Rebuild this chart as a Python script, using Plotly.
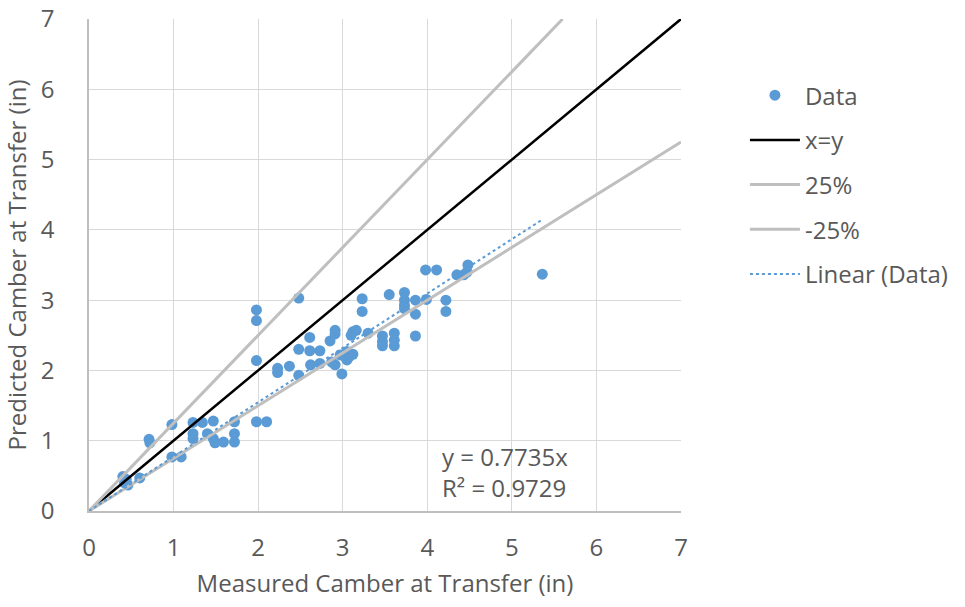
import plotly.graph_objects as go

measured = [0.40, 0.42, 0.46, 0.44, 0.60, 0.71, 0.72, 0.98, 0.98, 1.09,
            1.23, 1.34, 1.47, 1.23, 1.23, 1.40, 1.47, 1.49, 1.59, 1.72,
            1.72, 1.72, 1.98, 2.10, 1.98, 1.98, 1.98, 2.48, 2.23, 2.23,
            2.37, 2.48, 2.48, 2.61, 2.61, 2.62, 2.73, 2.73, 2.85, 2.87,
            2.91, 2.91, 2.91, 2.99, 2.97, 3.05, 3.08, 3.12, 3.05, 3.03,
            3.10, 3.12, 3.16, 3.23, 3.23, 3.30, 3.47, 3.47, 3.47, 3.61,
            3.61, 3.61, 3.55, 3.73, 3.73, 3.73, 3.73, 3.86, 3.86, 3.86,
            3.99, 3.98, 4.11, 4.22, 4.22, 4.35, 4.43, 4.48, 4.47, 5.36]
predicted = [0.49, 0.40, 0.37, 0.45, 0.47, 1.02, 0.97, 1.23, 0.77, 0.77,
             1.26, 1.26, 1.28, 1.10, 1.03, 1.10, 1.03, 0.97, 0.98, 1.27,
             1.10, 0.98, 1.27, 1.27, 2.86, 2.71, 2.14, 3.03, 2.03, 1.97,
             2.06, 2.30, 1.93, 2.47, 2.28, 2.08, 2.28, 2.10, 2.42, 2.12,
             2.57, 2.52, 2.08, 1.95, 2.22, 2.27, 2.20, 2.23, 2.15, 2.19,
             2.50, 2.55, 2.57, 3.02, 2.84, 2.53, 2.49, 2.41, 2.35, 2.53,
             2.43, 2.35, 3.08, 3.11, 3.00, 2.93, 2.88, 3.00, 2.80, 2.49,
             3.01, 3.43, 3.43, 3.00, 2.84, 3.36, 3.36, 3.50, 3.40, 3.37]

line_x = [0, 7]
xy_y = [0, 7]
plus25_x = [0, 5.6]
plus25_y = [0, 7]
minus25_y = [0, 5.25]
trend_x = [0, 5.36]
trend_y = [0, 0.7735 * 5.36]

font = "Open Sans"
grey = "#595959"
fs = 24

fig = go.Figure()
fig.add_trace(go.Scatter(x=measured, y=predicted, mode="markers", name="Data",
                         marker=dict(color="#5B9BD5", size=11), legendgroup="a"))
fig.add_trace(go.Scatter(x=line_x, y=xy_y, mode="lines", name="x=y",
                         line=dict(color="black", width=2.5), legendgroup="b"))
fig.add_trace(go.Scatter(x=plus25_x, y=plus25_y, mode="lines", name="25%",
                         line=dict(color="#BFBFBF", width=3), legendgroup="c"))
fig.add_trace(go.Scatter(x=line_x, y=minus25_y, mode="lines", name="-25%",
                         line=dict(color="#BFBFBF", width=3), legendgroup="d"))
fig.add_trace(go.Scatter(x=trend_x, y=trend_y, mode="lines", name="Linear (Data)",
                         line=dict(color="#5B9BD5", width=2, dash="dot"), legendgroup="e"))

fig.add_annotation(x=4.15, y=0.77, text="y = 0.7735x", showarrow=False,
                   xanchor="left", yanchor="middle", font=dict(size=fs, color=grey, family=font))
fig.add_annotation(x=4.15, y=0.34, text="R² = 0.9729", showarrow=False,
                   xanchor="left", yanchor="middle", font=dict(size=fs, color=grey, family=font))

axis_common = dict(range=[0, 7], dtick=1, showgrid=True, gridcolor="#D9D9D9", gridwidth=1,
                   showline=True, linecolor="#BFBFBF", linewidth=1.5, zeroline=False,
                   ticks="outside", tickcolor="rgba(0,0,0,0)", automargin=False,
                   ticklabeloverflow="allow",
                   tickfont=dict(size=fs, color=grey, family=font))
fig.update_xaxes(**axis_common, ticklen=14,
                 title=dict(text="Measured Camber at Transfer (in)", font=dict(size=fs, color=grey, family=font), standoff=14))
fig.update_yaxes(**axis_common, ticklen=28,
                 title=dict(text="Predicted Camber at Transfer (in)", font=dict(size=fs, color=grey, family=font), standoff=10))

fig.update_layout(
    width=965, height=607,
    margin=dict(l=89, r=268, t=19, b=96),
    plot_bgcolor="white", paper_bgcolor="white",
    font=dict(family=font, color=grey),
    legend=dict(x=1.108, y=0.89, xanchor="left", yanchor="top",
                font=dict(size=fs, color=grey, family=font),
                tracegroupgap=10.5, itemwidth=50),
)

fig.write_html("out.html", config={"displayModeBar": False},
               post_script="document.body.style.margin='0';document.body.style.overflow='hidden';document.documentElement.style.overflow='hidden';")
